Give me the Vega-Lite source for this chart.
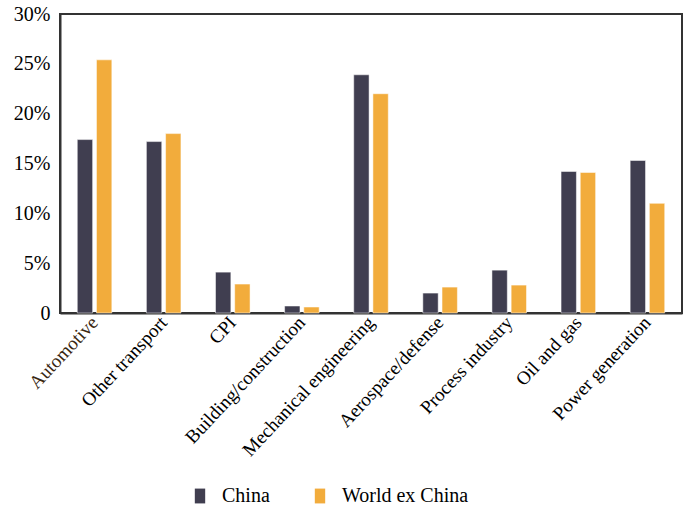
{
  "$schema": "https://vega.github.io/schema/vega-lite/v6.json",
  "autosize": {"type": "none"},
  "width": 622,
  "height": 299,
  "padding": {"left": 60, "top": 14, "right": 3, "bottom": 196},
  "background": "white",
  "config": {
    "font": "Liberation Serif",
    "view": {"stroke": "#333333", "strokeWidth": 2},
    "axis": {"grid": false, "ticks": false, "domainColor": "#333333", "domainWidth": 2, "labelColor": "black"}
  },
  "data": {
    "values": [
      {"sector": "Automotive", "region": "China", "value": 17.4},
      {"sector": "Automotive", "region": "World ex China", "value": 25.4},
      {"sector": "Other transport", "region": "China", "value": 17.2},
      {"sector": "Other transport", "region": "World ex China", "value": 18.0},
      {"sector": "CPI", "region": "China", "value": 4.1},
      {"sector": "CPI", "region": "World ex China", "value": 2.9},
      {"sector": "Building/construction", "region": "China", "value": 0.7},
      {"sector": "Building/construction", "region": "World ex China", "value": 0.6},
      {"sector": "Mechanical engineering", "region": "China", "value": 23.9},
      {"sector": "Mechanical engineering", "region": "World ex China", "value": 22.0},
      {"sector": "Aerospace/defense", "region": "China", "value": 2.0},
      {"sector": "Aerospace/defense", "region": "World ex China", "value": 2.6},
      {"sector": "Process industry", "region": "China", "value": 4.3},
      {"sector": "Process industry", "region": "World ex China", "value": 2.8},
      {"sector": "Oil and gas", "region": "China", "value": 14.2},
      {"sector": "Oil and gas", "region": "World ex China", "value": 14.1},
      {"sector": "Power generation", "region": "China", "value": 15.3},
      {"sector": "Power generation", "region": "World ex China", "value": 11.0}
    ]
  },
  "mark": {"type": "bar", "stroke": "white", "strokeWidth": 0.5},
  "encoding": {
    "x": {
      "field": "sector", "type": "nominal", "sort": null,
      "scale": {"paddingInner": 0.5, "paddingOuter": 0.25},
      "axis": {"title": null, "labelAngle": -47, "labelFontSize": 19, "labelPadding": 6, "labelLimit": 400,
        "labelFont": "Liberation Serif",
        "labelColor": {"expr": "datum.value == 'Automotive' ? '#3a2812' : 'black'"}}
    },
    "xOffset": {"field": "region", "type": "nominal", "scale": {"paddingInner": 0.2}},
    "y": {
      "field": "value", "type": "quantitative",
      "scale": {"domain": [0, 30], "nice": false},
      "axis": {"title": null, "values": [0, 5, 10, 15, 20, 25, 30], "labelFontSize": 20, "labelPadding": 10,
        "labelFont": "Liberation Serif",
        "labelExpr": "datum.value == 0 ? '0' : datum.value + '%'"}
    },
    "color": {
      "field": "region", "type": "nominal",
      "scale": {"domain": ["China", "World ex China"], "range": ["#403e50", "#f2ac3c"]},
      "legend": {"title": null, "orient": "none", "legendX": 130, "legendY": 472, "direction": "horizontal",
        "symbolType": "M-0.7,-1H0.7V1H-0.7Z", "symbolSize": 220, "symbolStrokeWidth": 0,
        "labelFontSize": 20, "labelFont": "Liberation Serif", "labelColor": "black", "columnPadding": 40, "labelOffset": 12}
    }
  }
}
